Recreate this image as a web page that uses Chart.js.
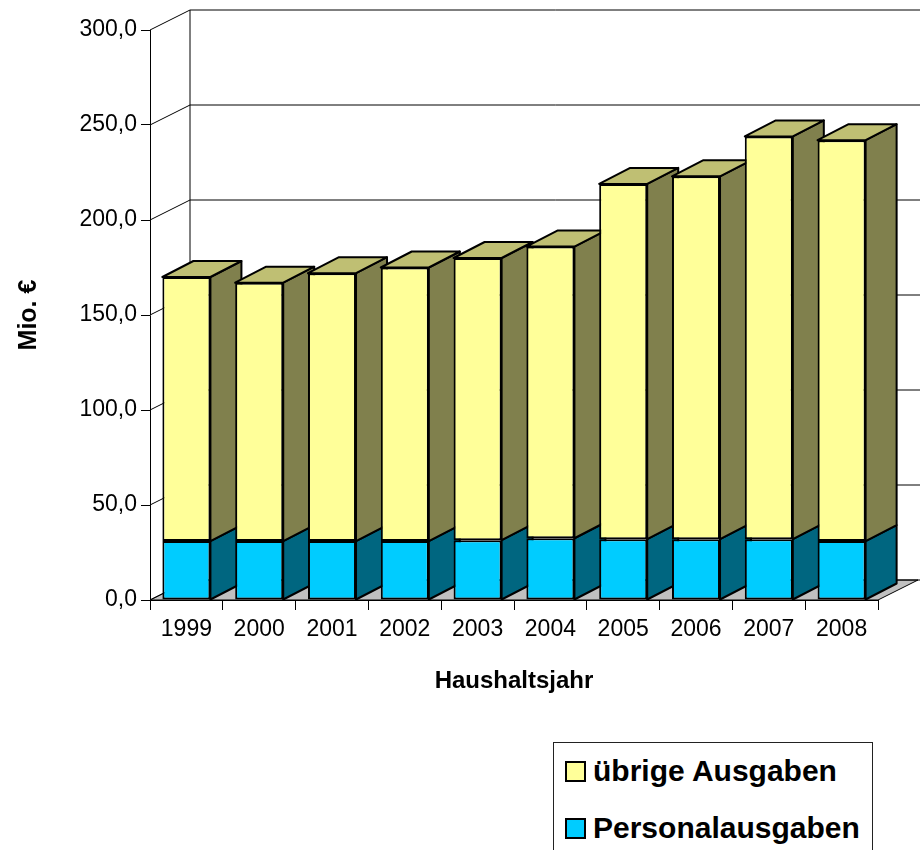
<!DOCTYPE html>
<html lang="de">
<head>
<meta charset="utf-8">
<title>Ausgaben nach Haushaltsjahr</title>
<script src="https://cdn.jsdelivr.net/npm/chart.js@4.4.1/dist/chart.umd.min.js"></script>
<style>
    html, body { margin: 0; padding: 0; background: #fff; overflow: hidden; }
    #wrap { position: relative; width: 920px; height: 850px; }
    #legend {
        position: absolute; left: 553px; top: 742px; width: 318px; height: 130px;
        border: 1px solid #222; background: #fff;
        font-family: "Liberation Sans", Arial, sans-serif; font-weight: bold; font-size: 30px;
    }
    #legend .item { position: absolute; left: 11px; height: 34px; line-height: 34px; white-space: nowrap; }
    #legend .box { display: inline-block; width: 17px; height: 17px; border: 2px solid #000; margin-right: 7px; vertical-align: -1px; }
</style>
</head>
<body>
<div id="wrap">
    <canvas id="ausgabenChart"></canvas>
    <div id="legend"></div>
</div>
<script>
// Haushaltsjahre und Werte in Mio. €
const years = ['1999', '2000', '2001', '2002', '2003', '2004', '2005', '2006', '2007', '2008'];
const personalausgaben = [31, 31, 31, 31, 31.5, 32.5, 32, 32, 32, 31];
const uebrigeAusgaben = [139, 136, 141, 144, 148.5, 153.5, 187, 191, 212, 211];
const yTickValues = [0, 50, 100, 150, 200, 250, 300];

// depth offsets for the pseudo 3D look
const BAR_DX = 31, BAR_DY = -16;
const WALL_DX = 40, WALL_DY = -20;

document.addEventListener('DOMContentLoaded', function() {
    if (typeof Chart === 'undefined') {
        console.error('Chart.js not loaded');
        return;
    }

    Chart.defaults.font.family = '"Liberation Sans", Arial, sans-serif';
    Chart.defaults.color = '#000';

    function face(ctx, pts, fill) {
        ctx.beginPath();
        ctx.moveTo(pts[0][0], pts[0][1]);
        for (let i = 1; i < pts.length; i++) ctx.lineTo(pts[i][0], pts[i][1]);
        ctx.closePath();
        ctx.fillStyle = fill;
        ctx.fill();
        ctx.stroke();
    }

    // floor, walls and the side/top faces of the bars
    const depthPlugin = {
        id: 'depth3d',
        beforeDatasetsDraw(chart) {
            const ctx = chart.ctx;
            const a = chart.chartArea;
            const y = chart.scales.y;
            ctx.save();
            ctx.strokeStyle = '#000';
            ctx.lineWidth = 1;

            face(ctx, [[a.left, a.bottom], [a.right, a.bottom],
                [a.right + WALL_DX, a.bottom + WALL_DY], [a.left + WALL_DX, a.bottom + WALL_DY]], '#C0C0C0');

            y.ticks.forEach(t => {
                const py = y.getPixelForValue(t.value);
                ctx.beginPath();
                ctx.moveTo(a.left, py);
                ctx.lineTo(a.left + WALL_DX, py + WALL_DY);
                ctx.lineTo(a.right + WALL_DX + 10, py + WALL_DY);
                ctx.stroke();
            });
            ctx.beginPath();
            ctx.moveTo(a.left + WALL_DX, a.top + WALL_DY);
            ctx.lineTo(a.left + WALL_DX, a.bottom + WALL_DY);
            ctx.stroke();

            ctx.lineWidth = 2;
            ctx.lineJoin = 'round';
            const last = chart.data.datasets.length - 1;
            chart.data.datasets.forEach((ds, d) => {
                chart.getDatasetMeta(d).data.forEach(el => {
                    const p = el.getProps(['x', 'y', 'base', 'width'], true);
                    const r = p.x + p.width / 2, l = p.x - p.width / 2;
                    face(ctx, [[r, p.y], [r + BAR_DX, p.y + BAR_DY], [r + BAR_DX, p.base + BAR_DY], [r, p.base]], ds.sideColor);
                    if (d === last) {
                        face(ctx, [[l, p.y], [r, p.y], [r + BAR_DX, p.y + BAR_DY], [l + BAR_DX, p.y + BAR_DY]], ds.topColor);
                    }
                });
            });
            ctx.restore();
        }
    };

    const chart = new Chart(document.getElementById('ausgabenChart'), {
        type: 'bar',
        data: {
            labels: years,
            datasets: [
                {
                    label: 'Personalausgaben',
                    data: personalausgaben,
                    backgroundColor: '#00CCFF',
                    sideColor: '#006680',
                    topColor: '#00A3CC',
                    borderColor: '#000',
                    borderWidth: 2,
                    borderSkipped: false
                },
                {
                    label: 'übrige Ausgaben',
                    data: uebrigeAusgaben,
                    backgroundColor: '#FFFF99',
                    sideColor: '#80804D',
                    topColor: '#BFBF73',
                    borderColor: '#000',
                    borderWidth: 2,
                    borderSkipped: false
                }
            ]
        },
        options: {
            responsive: true,
            maintainAspectRatio: false,
            animation: false,
            barPercentage: 0.66,
            categoryPercentage: 1,
            layout: { padding: { top: 30, right: 42, bottom: 150, left: 0 } },
            plugins: {
                legend: { display: false },
                tooltip: { enabled: false }
            },
            scales: {
                x: {
                    stacked: true,
                    grid: { drawOnChartArea: false, drawTicks: true, tickLength: 10, color: '#000' },
                    border: { display: true, color: '#000', width: 1 },
                    ticks: { font: { size: 23 }, padding: 6 },
                    title: { display: true, text: 'Haushaltsjahr', font: { size: 24, weight: 'bold' }, padding: { top: 14 } },
                    afterFit: s => { s.height = 100; }
                },
                y: {
                    stacked: true,
                    min: 0,
                    max: 300,
                    afterBuildTicks: s => { s.ticks = yTickValues.map(v => ({ value: v })); },
                    grid: { drawOnChartArea: false, drawTicks: true, tickLength: 9, color: '#000' },
                    border: { display: true, color: '#000', width: 1 },
                    ticks: {
                        font: { size: 23 },
                        padding: 4,
                        callback: v => v.toFixed(1).replace('.', ',')
                    },
                    title: { display: true, text: 'Mio. €', font: { size: 25, weight: 'bold' }, padding: { top: 14, bottom: 4 } },
                    afterFit: s => { s.width = 150; }
                }
            }
        },
        plugins: [depthPlugin]
    });

    // legend box, top series first as in the reference
    const legend = document.getElementById('legend');
    chart.data.datasets.slice().reverse().forEach((ds, i) => {
        const item = document.createElement('div');
        item.className = 'item';
        item.style.top = (11 + i * 57) + 'px';
        const box = document.createElement('span');
        box.className = 'box';
        box.style.background = ds.backgroundColor;
        item.appendChild(box);
        item.appendChild(document.createTextNode(ds.label));
        legend.appendChild(item);
    });
});
</script>
</body>
</html>
